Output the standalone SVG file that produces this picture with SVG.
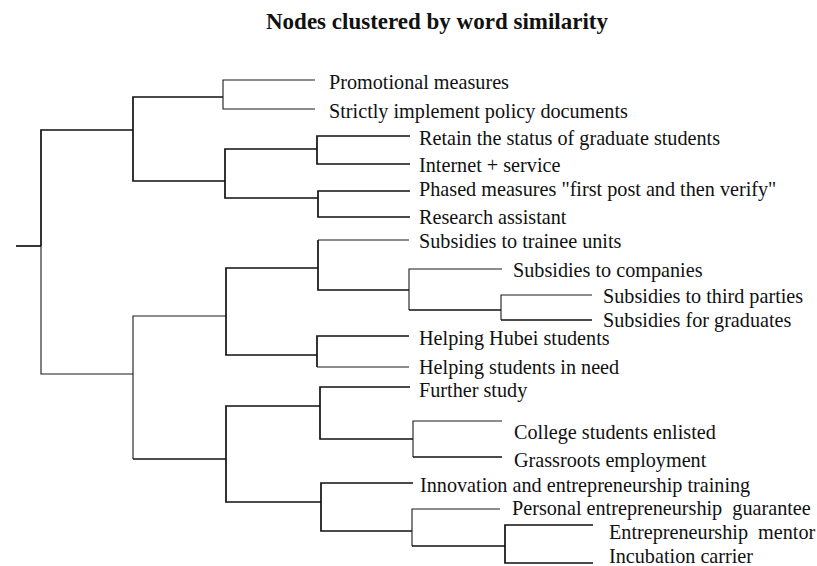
<svg xmlns="http://www.w3.org/2000/svg" width="817" height="566" viewBox="0 0 817 566">
<style>
.t{font-family:"Liberation Serif","Times New Roman",serif;font-size:20.2px;fill:#111}
.title{font-family:"Liberation Serif","Times New Roman",serif;font-size:23px;font-weight:bold;fill:#111}
.k{fill:none;stroke:#111;stroke-width:1.7}
.n{fill:none;stroke:#1a1a1a;stroke-width:1.1}
</style>
<rect width="817" height="566" fill="#fff"/>
<text class="title" x="437" y="29" text-anchor="middle">Nodes clustered by word similarity</text>
<g id="connectors">
<path class="k" d="M16,246 H41"/>
<path class="k" d="M133,130 H41 V246"/>
<path class="n" d="M41,246 V374 H133"/>
<path class="k" d="M223,97 H133 V181 H225"/>
<path class="n" d="M315,80 H223 V109 H315"/>
<path class="k" d="M317,149 H225 V198 H318"/>
<path class="k" d="M410,136 H317 V164 H410"/>
<path class="k" d="M410,191 H318 V217 H410"/>
<path class="n" d="M226,316 H133 V459"/>
<path class="k" d="M133,459 H226"/>
<path class="k" d="M318,268 H226 V355 H317"/>
<path class="n" d="M409,240 H318"/>
<path class="k" d="M318,240 V290 H409"/>
<path class="n" d="M502,269 H409 V310"/>
<path class="k" d="M409,310 H501"/>
<path class="n" d="M592,295 H501 V320"/>
<path class="k" d="M501,320 H592"/>
<path class="k" d="M409,336 H317 V367"/>
<path class="n" d="M317,367 H409"/>
<path class="k" d="M320,406 H226 V502 H321"/>
<path class="k" d="M410,387 H320 V439 H413"/>
<path class="n" d="M502,421 H413 V457"/>
<path class="k" d="M413,457 H502"/>
<path class="k" d="M413,483 H321 V531 H412"/>
<path class="n" d="M500,509 H412 V546"/>
<path class="k" d="M412,546 H505"/>
<path class="k" d="M593,525 H505 V563 H593"/>
</g>
<g id="leaf-promotional"><text class="t" x="329" y="89">Promotional measures</text></g>
<g id="leaf-strictly"><text class="t" x="329" y="118">Strictly implement policy documents</text></g>
<g id="leaf-retain"><text class="t" x="419" y="145">Retain the status of graduate students</text></g>
<g id="leaf-internet"><text class="t" x="419" y="172">Internet + service</text></g>
<g id="leaf-phased"><text class="t" x="419" y="196">Phased measures "first post and then verify"</text></g>
<g id="leaf-research"><text class="t" x="419" y="224">Research assistant</text></g>
<g id="leaf-trainee"><text class="t" x="419" y="248">Subsidies to trainee units</text></g>
<g id="leaf-companies"><text class="t" x="513" y="277">Subsidies to companies</text></g>
<g id="leaf-third"><text class="t" x="603" y="303">Subsidies to third parties</text></g>
<g id="leaf-graduates"><text class="t" x="603" y="327">Subsidies for graduates</text></g>
<g id="leaf-hubei"><text class="t" x="419" y="345">Helping Hubei students</text></g>
<g id="leaf-need"><text class="t" x="419" y="374">Helping students in need</text></g>
<g id="leaf-further"><text class="t" x="419" y="397">Further study</text></g>
<g id="leaf-college"><text class="t" x="514" y="439">College students enlisted</text></g>
<g id="leaf-grassroots"><text class="t" x="514" y="467">Grassroots employment</text></g>
<g id="leaf-innovation"><text class="t" x="420" y="492">Innovation and entrepreneurship training</text></g>
<g id="leaf-personal"><text class="t" x="512" y="515" xml:space="preserve">Personal entrepreneurship  guarantee</text></g>
<g id="leaf-mentor"><text class="t" x="609" y="539" xml:space="preserve">Entrepreneurship  mentor</text></g>
<g id="leaf-incubation"><text class="t" x="609" y="563">Incubation carrier</text></g>
</svg>
